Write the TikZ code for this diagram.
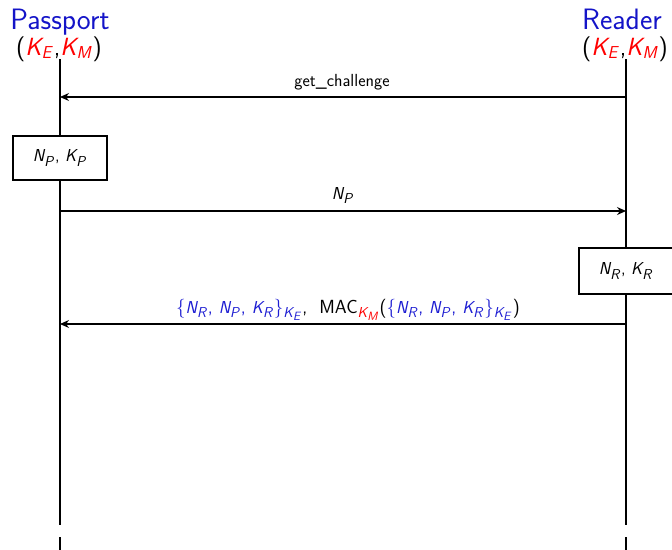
\documentclass[tikz,border=0pt]{standalone}
\usetikzlibrary{arrows.meta}
\renewcommand{\familydefault}{\sfdefault}
\DeclareSymbolFont{sfsl}{OT1}{cmss}{m}{sl}
\DeclareMathSymbol{N}{\mathalpha}{sfsl}{`N}
\DeclareMathSymbol{P}{\mathalpha}{sfsl}{`P}
\DeclareMathSymbol{K}{\mathalpha}{sfsl}{`K}
\DeclareMathSymbol{R}{\mathalpha}{sfsl}{`R}
\DeclareMathSymbol{E}{\mathalpha}{sfsl}{`E}
\DeclareMathSymbol{M}{\mathalpha}{sfsl}{`M}
\DeclareMathSizes{17.5}{17.5}{14}{12}
\DeclareMathSizes{19}{19}{15}{13}
\DeclareMathSizes{25}{25}{19}{15}
\definecolor{actblue}{RGB}{20,20,200}
\definecolor{msgblue}{RGB}{30,30,210}
\begin{document}
\begin{tikzpicture}[x=1pt,y=-1pt,
  actor/.style={font=\fontsize{29.5}{34}\selectfont, text=actblue, inner sep=0pt, anchor=base},
  keys/.style={font=\fontsize{25}{29}\selectfont, inner sep=0pt, anchor=base},
  lifeline/.style={line width=1.2pt},
  tail/.style={line width=1.2pt, dash pattern=on 13pt off 12pt},
  msg/.style={line width=1.2pt, -{Stealth[length=9pt,width=8pt]}},
  lbl/.style={font=\fontsize{17.5}{20}\selectfont, inner sep=0pt, anchor=base},
  biglbl/.style={font=\fontsize{19}{22}\selectfont, inner sep=0pt, anchor=base},
  actbox/.style={draw, line width=1.2pt, fill=white, inner sep=0pt, font=\fontsize{17.5}{20}\selectfont}
]
\useasboundingbox (0,0) rectangle (672,549);

\node[actor] (pname) at (60,29) {Passport};
\node[actor] (rname) at (622,29) {Reader};
\node[keys] (pkeys) at (59,55) {(\textcolor{red}{$K_E$},\textcolor{red}{$K_M$})};
\node[keys] (rkeys) at (625,55) {(\textcolor{red}{$K_E$},\textcolor{red}{$K_M$})};

\coordinate (ptop) at (60,59);
\coordinate (rtop) at (626,59);
\coordinate (pend) at (60,512);
\coordinate (rend) at (626,512);
\coordinate (ptail) at (60,560);
\coordinate (rtail) at (626,560);

\draw[lifeline] (ptop) -- (pend);
\draw[lifeline] (rtop) -- (rend);
\draw[tail] (pend) -- (ptail);
\draw[tail] (rend) -- (rtail);

% message 1
\coordinate (m1r) at (626,97);
\coordinate (m1p) at (60,97);
\draw[msg] (m1r) -- (m1p);
\node[lbl] (l1) at (342,86) {get\_challenge};

% passport box
\node[actbox, minimum width=94pt, minimum height=44pt] (pbox) at (60,158) {$N_P$, $K_P$};

% message 2
\coordinate (m2p) at (60,211);
\coordinate (m2r) at (626,211);
\draw[msg] (m2p) -- (m2r);
\node[lbl] (l2) at (343,199) {$N_P$};

% reader box
\node[actbox, minimum width=94pt, minimum height=46pt] (rbox) at (626,271) {$N_R$, $K_R$};

% message 3
\coordinate (m3r) at (626,324);
\coordinate (m3p) at (60,324);
\draw[msg] (m3r) -- (m3p);
\node[biglbl] (l3) at (348,313) {\textcolor{msgblue}{\{$N_R$, $N_P$, $K_R$\}$_{K_E}$},\ \ MAC$_{\textcolor{red}{K_M}}$(\textcolor{msgblue}{\{$N_R$, $N_P$, $K_R$\}$_{K_E}$})};
\end{tikzpicture}
\end{document}
